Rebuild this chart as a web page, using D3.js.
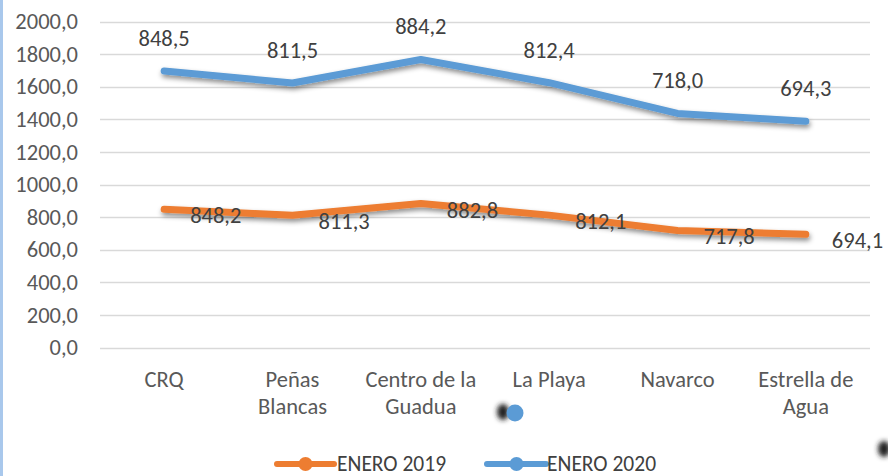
<!DOCTYPE html>
<html><head><meta charset="utf-8">
<script src="https://cdn.jsdelivr.net/npm/d3@7"></script>
<style>
html,body{margin:0;padding:0;background:#fff;}
svg{display:block;font-family:Carlito,Lato,"Open Sans",sans-serif;}
</style></head>
<body>
<svg id="chart" width="888" height="476"></svg>
<script>
const categories = ["CRQ", "Peñas Blancas", "Centro de la Guadua", "La Playa", "Navarco", "Estrella de Agua"];
const categoryLines = [["CRQ"], ["Peñas", "Blancas"], ["Centro de la", "Guadua"], ["La Playa"], ["Navarco"], ["Estrella de", "Agua"]];
const enero2019 = [848.2, 811.3, 882.8, 812.1, 717.8, 694.1];
const enero2020 = [848.5, 811.5, 884.2, 812.4, 718.0, 694.3];
const seriesNames = ["ENERO 2019", "ENERO 2020"];
const yTicks = [0, 200, 400, 600, 800, 1000, 1200, 1400, 1600, 1800, 2000];

const FS = 22.5;
const svg = d3.select("#chart");
const colors = ["#ED7D31", "#5B9BD5"];
const fmt = v => d3.format(".1f")(v).replace(".", ",");

const defs = svg.append("defs");
const f = defs.append("filter").attr("id", "shadow").attr("x", "-10%").attr("y", "-50%").attr("width", "120%").attr("height", "200%");
f.append("feDropShadow").attr("dx", 1).attr("dy", 3).attr("stdDeviation", 2.5).attr("flood-color", "#000").attr("flood-opacity", 0.45);
const blur = defs.append("filter").attr("id", "blur").attr("x", "-100%").attr("y", "-100%").attr("width", "300%").attr("height", "300%");
blur.append("feGaussianBlur").attr("stdDeviation", 2.5);

// left selection border
svg.append("line").attr("x1", 1.5).attr("x2", 1.5).attr("y1", 0).attr("y2", 476)
  .attr("stroke", "#a9c8ec").attr("stroke-width", 3);

const x = d3.scaleBand().domain(categories).range([100, 870]);
const y = d3.scaleLinear().domain([0, 2000]).range([347.5, 21.5]);
const cx = c => x(c) + x.bandwidth() / 2;

// gridlines
svg.append("g").selectAll("line").data(yTicks).join("line")
  .attr("x1", 100).attr("x2", 870)
  .attr("y1", d => Math.round(y(d)) + 0.5).attr("y2", d => Math.round(y(d)) + 0.5)
  .attr("stroke", "#d9d9d9").attr("stroke-width", 1.3);

// y axis
const yAxis = svg.append("g").attr("transform", "translate(88,0)")
  .call(d3.axisLeft(y).tickValues(yTicks).tickFormat(fmt).tickSize(0).tickPadding(10));
yAxis.select(".domain").remove();
yAxis.selectAll("text").attr("font-size", FS).attr("fill", "#595959").attr("font-family", "Carlito,Lato,sans-serif");

// x labels
const xl = svg.append("g").selectAll("text").data(categories).join("text")
  .attr("x", d => cx(d)).attr("y", 387)
  .attr("text-anchor", "middle").attr("font-size", FS).attr("fill", "#595959");
xl.each(function(d, i) {
  d3.select(this).selectAll("tspan").data(categoryLines[i]).join("tspan")
    .attr("x", cx(d)).attr("dy", (t, j) => j === 0 ? 0 : 27).text(t => t);
});

// stacked values
const stack2019 = enero2019.map(v => v);
const stack2020 = enero2020.map((v, i) => v + enero2019[i]);

const line = d3.line().x((d, i) => cx(categories[i])).y(d => y(d));

svg.append("path").datum(stack2019).attr("d", line).attr("fill", "none")
  .attr("stroke", colors[0]).attr("stroke-width", 7).attr("stroke-linecap", "round").attr("stroke-linejoin", "round")
  .attr("filter", "url(#shadow)");
svg.append("path").datum(stack2020).attr("d", line).attr("fill", "none")
  .attr("stroke", colors[1]).attr("stroke-width", 7).attr("stroke-linecap", "round").attr("stroke-linejoin", "round")
  .attr("filter", "url(#shadow)");

// labels 2019 (right)
svg.append("g").selectAll("text").data(enero2019).join("text")
  .attr("x", (d, i) => cx(categories[i]) + 26)
  .attr("y", (d, i) => y(stack2019[i]) + 14)
  .attr("font-size", FS).attr("fill", "#404040").text(d => fmt(d));

// labels 2020 (above)
svg.append("g").selectAll("text").data(enero2020).join("text")
  .attr("x", (d, i) => cx(categories[i]))
  .attr("y", (d, i) => y(stack2020[i]) - 25)
  .attr("text-anchor", "middle")
  .attr("font-size", FS).attr("fill", "#404040").text(d => fmt(d));

// stray artifacts
svg.append("ellipse").attr("cx", 503).attr("cy", 412).attr("rx", 6).attr("ry", 8).attr("fill", "#222").attr("filter", "url(#blur)");
svg.append("circle").attr("cx", 515).attr("cy", 413).attr("r", 8.5).attr("fill", colors[1]);
svg.append("ellipse").attr("cx", 884).attr("cy", 449).attr("rx", 6).attr("ry", 8).attr("fill", "#222").attr("filter", "url(#blur)");

// legend
const legend = [{x0: 277, x1: 334, tx: 337}, {x0: 487, x1: 546, tx: 547}];
const lg = svg.append("g").selectAll("g").data(seriesNames).join("g");
lg.append("line").attr("x1", (d, i) => legend[i].x0).attr("x2", (d, i) => legend[i].x1)
  .attr("y1", 464).attr("y2", 464).attr("stroke", (d, i) => colors[i]).attr("stroke-width", 6).attr("stroke-linecap", "round");
lg.append("circle").attr("cx", (d, i) => (legend[i].x0 + legend[i].x1) / 2).attr("cy", 464).attr("r", 7)
  .attr("fill", (d, i) => colors[i]);
lg.append("text").attr("x", (d, i) => legend[i].tx).attr("y", 471)
  .attr("font-size", 21.5).attr("fill", "#404040").text(d => d);
</script>
</body></html>
